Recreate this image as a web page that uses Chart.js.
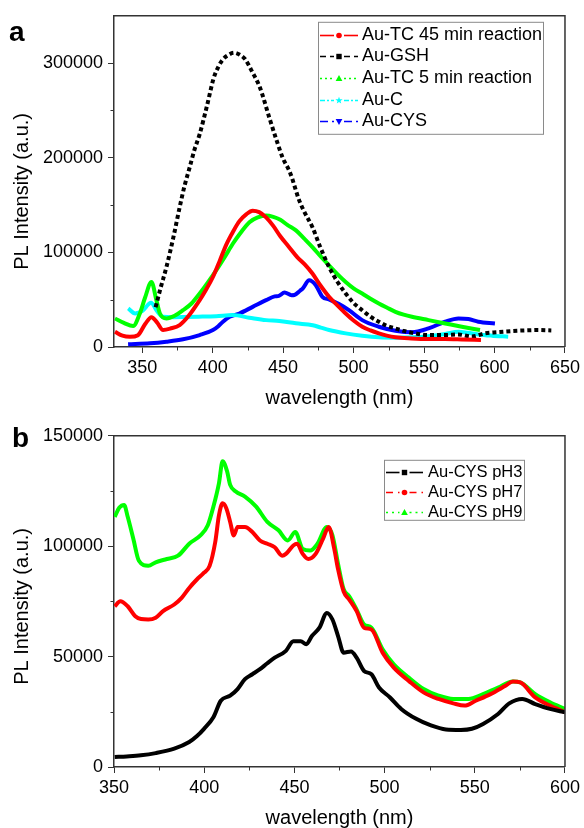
<!DOCTYPE html>
<html><head><meta charset="utf-8">
<script src="https://cdn.jsdelivr.net/npm/chart.js@4.4.1/dist/chart.umd.min.js"></script>
<style>
html,body{margin:0;padding:0;background:#fff;overflow:hidden;width:584px;height:828px;}
#wrapA{position:absolute;left:0;top:0;width:584px;height:420px;}
#wrapB{position:absolute;left:0;top:420px;width:584px;height:420px;}
.lbl{position:absolute;font:bold 28px "Liberation Sans",Arial,sans-serif;line-height:28px;color:#000;}
</style></head><body>
<div id="wrapA"><canvas id="cA" width="584" height="420"></canvas></div>
<div id="wrapB"><canvas id="cB" width="584" height="420"></canvas></div>
<div class="lbl" style="left:9px;top:18px">a</div>
<div class="lbl" style="left:12px;top:424px">b</div>
<script>
// ---------- Panel a data ----------
const wlTC45 = [330.7,336,341.3,347,352,356.6,360.5,364.8,370,376.6,383,390.8,395.5,400.2,405,409.6,414.5,419,424,428.4,433,437.9,443,448,454,460,465.5,470.8,476.5,482.6,488.5,494.4,500,506.2,512,517.9,523.5,529.7,541,553.2,565,576.8,590.4];
const valTC45 = [16100,12000,10800,12500,24000,31500,26000,18000,19500,23200,33000,49500,61000,74000,91000,108000,122000,133000,140500,144000,142500,137000,128000,117000,106000,95000,87000,77600,65000,53000,44000,35400,28000,21400,17500,14400,12000,10200,9000,8400,8400,8000,7400];

const wlGSH = [359.5,363,367.2,372,376.6,380,383.7,387,390.8,396,400.7,404,407.3,411,415.2,419,423.1,428,433.6,440.2,445,449.6,455,461.4,465,470.8,476.5,482.6,488.5,494.4,500,506.1,512,517.9,523.5,529.7,535.5,541.4,553.2,565,574.4,583.8,593.3,602,612,621,630.9,640.3];
const valGSH = [42000,62000,84500,115000,147700,170000,189800,208000,225000,255000,284000,296000,303900,308500,311000,309000,304000,291000,274000,242400,220000,200300,184000,155000,143000,126600,105000,84500,69000,56500,46500,38900,32000,26700,22500,19600,17000,15100,12600,12600,13200,11000,14400,15600,16800,17500,17900,17500];

const wlTC5 = [330.7,337,343.6,348.4,352,356.6,360,362.5,367.2,373,379,385,390.8,396.5,402.5,408.5,414.3,420,426.1,432,437.9,443,448,453,459.1,465,470.8,476.5,482.6,488.5,494.4,500,506.1,512,517.9,523.8,529.7,535.5,541.4,553.2,565,576.8,589.7];
const valTC5 = [30200,25500,22100,35700,52000,68800,50000,35700,30200,33000,38900,46000,56500,68000,81000,95000,109100,121000,131900,137000,138900,137500,134500,129000,123200,114500,105600,96000,86300,77000,68700,62000,56500,51000,46000,41500,37200,34200,31900,28400,24900,21400,17900];

const wlAuC = [340.1,345,350,356.3,360.5,364.8,372,379,390,402.5,414.3,426,437.9,447.3,459,471,476.7,482.6,494.4,506.1,517.9,529.7,541.4,553,565,574.4,581,588.5,598,609.7];
const valAuC = [40700,35400,38000,46700,38000,31900,31500,31600,32000,32600,33700,31000,28400,27400,25000,23000,20500,17900,14400,11900,10200,9800,10200,11500,13700,16100,15000,13300,12000,10900];

const wlCYS = [340,355.6,367.2,379,390.8,400.2,404,407.3,412,419,428.4,437.9,444,447,451,456,458,462,464,468.5,473.2,477.9,482.6,489.7,496.7,506.1,517.9,529.7,541.4,553.2,565,574.4,581.5,588.5,600.3];
const valCYS = [2800,3900,5600,8100,12600,17900,22000,26700,31900,35400,42400,49500,53500,54000,57500,54800,55000,59500,62000,70500,65300,53000,50200,45300,38900,28400,21400,17200,15500,19600,26700,30200,29500,26700,24900];

// ---------- Panel b data ----------
const wlPH3 = [350.4,357,364.9,373.1,383.4,391.7,396,399.9,405.1,409.2,414.4,418.5,422.6,426.7,430.9,435,439.1,445.3,449.4,453.5,456.6,459.7,463.9,468,471.1,474.2,477.3,481.4,484.5,488.6,492.7,496.9,503,509.2,517.5,525.7,534,542.2,548.4,554.6,562.9,569.1,576.3,583.5,591.7,600];
const valPH3 = [4500,4800,5300,6300,8300,11300,14000,17300,22500,30000,32300,35300,39800,42000,44300,47000,49500,52600,57000,57000,55600,59300,63100,69800,66800,59300,51800,52300,49500,43500,42000,36000,31500,26300,21800,18800,17000,16800,17300,19500,24000,28800,30800,28500,26300,24800];

const wlPH7 = [350.4,353.5,357.6,361.8,365,369,373.1,377.2,383.4,387.5,391.7,395.8,399.9,403,406.1,408.2,410.2,412.3,414.4,416.4,418.5,422.6,426.7,430.9,435,439.1,443.2,445.3,449.4,451.5,454.6,457.7,461.8,465.9,469,472.1,474.2,477.3,480.4,484.5,488.6,492.7,498.9,505.1,513.4,521.6,529.9,538.1,544.3,550.5,558.7,567,571.1,575.2,583.5,591.7,600];
const valPH7 = [72800,75100,72800,68300,67000,66800,67600,70600,73600,76600,81100,84800,88000,91100,101800,114100,119400,117100,111000,104900,108700,108700,106400,102600,101100,99500,95700,96500,100300,101100,96500,94200,96500,103400,108700,98800,89600,79500,75800,70600,63100,62300,51800,45000,39000,33800,30800,28800,27800,30000,33000,36800,38700,38300,31500,27800,24800];

const wlPH9 = [350.4,353,355.6,357.6,360.7,363.8,369,373.1,379.3,385.5,391.7,397.9,402,405.1,408.2,410.2,412.7,414.4,417.5,422.6,428.8,435,441.2,446.3,450.5,454.6,458.7,462.8,468,471.1,474.2,477.3,480.4,484.5,488.6,492.7,498.9,505.1,513.4,521.6,529.9,538.1,546.4,554.6,562.9,571.1,575.2,583.5,591.7,600];
const valPH9 = [113300,117500,118700,113300,103400,93400,91100,92700,94200,95700,101100,104900,109500,117900,128600,138500,133900,127800,124800,122500,117900,111000,107200,102600,106400,98800,98000,101100,108700,104900,92000,80500,77300,71300,64600,63100,53300,46500,40500,35300,32300,30800,30800,33000,36000,38700,38300,33000,29300,26300];

// ---------- Tick values ----------
const xMajorA = [350,400,450,500,550,600,650];
const xMinorA = [375,425,475,525,575,625];
const yMajorA = [0,100000,200000,300000];
const yMinorA = [50000,150000,250000];
const xMajorB = [350,400,450,500,550,600];
const xMinorB = [375,425,475,525,575];
const yMajorB = [0,50000,100000,150000];
const yMinorB = [25000,75000,125000];

const FAM = '"Liberation Sans", Arial, Helvetica, sans-serif';
const AXC = '#333';
Chart.defaults.font.family = FAM;

function pts(xs, ys){ return xs.map((x,i)=>({x:x,y:ys[i]})); }

function drawMarker(ctx, type, x, y, col){
  ctx.save();
  ctx.fillStyle = col; ctx.strokeStyle = col; ctx.lineWidth = 1;
  ctx.beginPath();
  if (type==='circle'){ ctx.arc(x,y,2.8,0,Math.PI*2); }
  else if (type==='square'){ ctx.rect(x-2.7,y-2.7,5.4,5.4); }
  else if (type==='triUp'){ ctx.moveTo(x,y-3.6); ctx.lineTo(x+3.4,y+2.6); ctx.lineTo(x-3.4,y+2.6); ctx.closePath(); }
  else if (type==='triDown'){ ctx.moveTo(x,y+3.6); ctx.lineTo(x+3.4,y-2.6); ctx.lineTo(x-3.4,y-2.6); ctx.closePath(); }
  else if (type==='star'){
    for(let k=0;k<10;k++){ const r = k%2?1.6:3.8; const an = -Math.PI/2 + k*Math.PI/5; const px=x+r*Math.cos(an), py=y+r*Math.sin(an); if(k===0) ctx.moveTo(px,py); else ctx.lineTo(px,py);} ctx.closePath();
  }
  ctx.fill();
  ctx.restore();
}

const framePlugin = {
  id: 'frame',
  afterDraw(chart, args, o){
    const ctx = chart.ctx, a = chart.chartArea;
    const xs = chart.scales.x, ys = chart.scales.y;
    ctx.save();
    ctx.strokeStyle = AXC; ctx.lineWidth = 1.5;
    ctx.beginPath();
    ctx.moveTo(a.left, a.top); ctx.lineTo(a.right, a.top); ctx.lineTo(a.right, a.bottom);
    ctx.stroke();
    ctx.lineWidth = 1;
    o.minorX.forEach(v=>{ const px = Math.round(xs.getPixelForValue(v))+0.5; ctx.beginPath(); ctx.moveTo(px,a.bottom); ctx.lineTo(px,a.bottom+3.5); ctx.stroke(); });
    o.minorY.forEach(v=>{ const py = Math.round(ys.getPixelForValue(v))+0.5; ctx.beginPath(); ctx.moveTo(a.left,py); ctx.lineTo(a.left-3.5,py); ctx.stroke(); });
    ctx.restore();

    // y-axis title
    ctx.save();
    ctx.fillStyle = '#000';
    ctx.font = '20px ' + FAM;
    ctx.translate(o.yTitleX, (a.top+a.bottom)/2 + o.yTitleShift);
    ctx.rotate(-Math.PI/2);
    ctx.textAlign = 'center'; ctx.textBaseline = 'middle';
    ctx.fillText(o.yTitle, 0, 0);
    ctx.restore();

    // legend
    const L = o.legend;
    const bx = a.left + L.dx, by = a.top + L.dy;
    ctx.save();
    ctx.fillStyle = '#fff'; ctx.fillRect(bx, by, L.w, L.h);
    ctx.strokeStyle = '#8a8a8a'; ctx.lineWidth = 1; ctx.strokeRect(bx+0.5, by+0.5, L.w, L.h);
    chart.data.datasets.forEach((ds,i)=>{
      const y = Math.round(by + L.row0 + i*L.step) + 0.5;
      const x0 = bx + L.s0, x1 = bx + L.s1, xm = (x0+x1)/2;
      ctx.strokeStyle = ds.borderColor; ctx.lineWidth = 1.6;
      ctx.setLineDash(ds.legendDash);
      ctx.beginPath(); ctx.moveTo(x0,y); ctx.lineTo(xm-5,y); ctx.stroke();
      ctx.beginPath(); ctx.moveTo(xm+5,y); ctx.lineTo(x1,y); ctx.stroke();
      ctx.setLineDash([]);
      drawMarker(ctx, ds.legendMarker, xm, y, ds.borderColor);
      ctx.fillStyle = '#000'; ctx.font = L.font; ctx.textAlign = 'left'; ctx.textBaseline = 'middle';
      ctx.fillText(ds.label, bx + L.tx, y);
    });
    ctx.restore();
  }
};

function axisX(min, max, major, h){
  return {
    type:'linear', min:min, max:max,
    afterBuildTicks: s => { s.ticks = major.map(v=>({value:v})); },
    afterFit: s => { s.height = h; },
    ticks:{ callback: v => String(v), font:{size:18, family:FAM}, color:'#000', padding:4, maxRotation:0, autoSkip:false },
    grid:{ drawOnChartArea:false, drawTicks:true, tickLength:6, color:AXC, tickWidth:1 },
    border:{ display:true, color:AXC, width:1.5 },
    title:{ display:true, text:'wavelength (nm)', color:'#000', font:{size:20, family:FAM, lineHeight:1}, padding:{top:0, bottom:12} }
  };
}
function axisY(min, max, major){
  return {
    type:'linear', min:min, max:max,
    afterBuildTicks: s => { s.ticks = major.map(v=>({value:v})); },
    afterFit: s => { s.width = 114; },
    ticks:{ callback: v => String(v), font:{size:18, family:FAM}, color:'#000', padding:5, autoSkip:false },
    grid:{ drawOnChartArea:false, drawTicks:true, tickLength:6, color:AXC, tickWidth:1 },
    border:{ display:true, color:AXC, width:1.5 }
  };
}
function ds(label, xs, ys, color, dash, lDash, marker){
  return { label:label, data:pts(xs,ys), borderColor:color, backgroundColor:color, borderWidth:4,
    borderDash:dash, pointRadius:0, fill:false, cubicInterpolationMode:'monotone',
    legendDash:lDash, legendMarker:marker };
}

new Chart(document.getElementById('cA'), {
  type:'line',
  data:{ datasets:[
    ds('Au-TC 45 min reaction', wlTC45, valTC45, '#ff0000', [], [], 'circle'),
    ds('Au-GSH', wlGSH, valGSH, '#000000', [4,3], [6,4], 'square'),
    ds('Au-TC 5 min reaction', wlTC5, valTC5, '#00ff00', [], [2,3], 'triUp'),
    ds('Au-C', wlAuC, valAuC, '#00ffff', [], [5,2,2,2], 'star'),
    ds('Au-CYS', wlCYS, valCYS, '#0000ff', [], [8,4], 'triDown')
  ]},
  options:{
    responsive:false, animation:false, events:[],
    layout:{ padding:{ top:15, right:17, left:0, bottom:0 } },
    scales:{ x: axisX(330, 650, xMajorA, 73), y: axisY(0, 350000, yMajorA) },
    plugins:{
      legend:{display:false}, tooltip:{enabled:false},
      frame:{ minorX:xMinorA, minorY:yMinorA, yTitle:'PL Intensity (a.u.)', yTitleX:22, yTitleShift:10,
        legend:{ dx:204, dy:6, w:225, h:112, row0:13, step:21.6, s0:2, s1:40, tx:44, font:'18px '+FAM } }
    }
  },
  plugins:[framePlugin]
});

new Chart(document.getElementById('cB'), {
  type:'line',
  data:{ datasets:[
    ds('Au-CYS pH3', wlPH3, valPH3, '#000000', [], [], 'square'),
    ds('Au-CYS pH7', wlPH7, valPH7, '#ff0000', [], [7,5], 'circle'),
    ds('Au-CYS pH9', wlPH9, valPH9, '#00ff00', [], [2,4], 'triUp')
  ]},
  options:{
    responsive:false, animation:false, events:[],
    layout:{ padding:{ top:15, right:17, left:0, bottom:0 } },
    scales:{ x: axisX(350, 600, xMajorB, 73), y: axisY(0, 150000, yMajorB) },
    plugins:{
      legend:{display:false}, tooltip:{enabled:false},
      frame:{ minorX:xMinorB, minorY:yMinorB, yTitle:'PL Intensity (a.u.)', yTitleX:22, yTitleShift:5,
        legend:{ dx:270, dy:24, w:140, h:60, row0:12, step:20, s0:2, s1:39, tx:44, font:'16.5px '+FAM } }
    }
  },
  plugins:[framePlugin]
});
</script>
</body></html>
